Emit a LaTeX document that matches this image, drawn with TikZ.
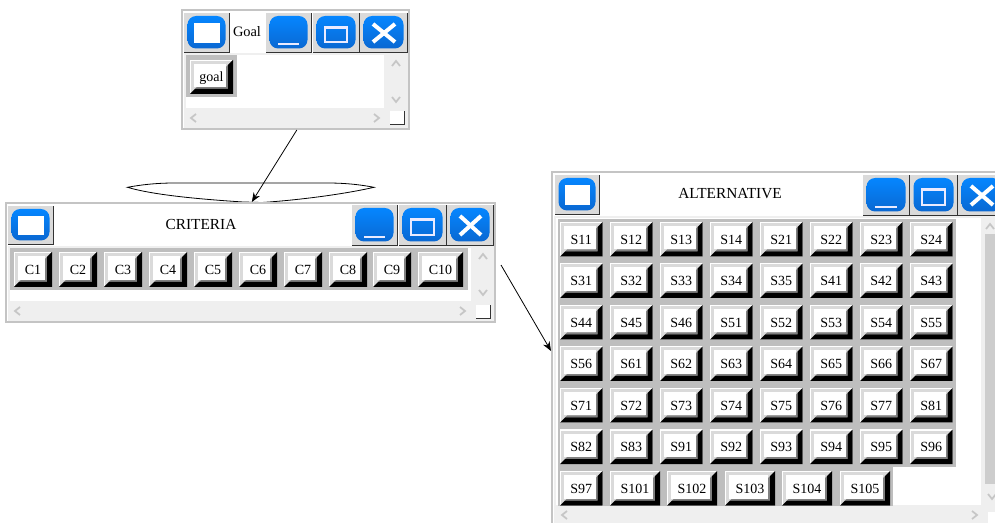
\documentclass[tikz,border=0pt]{standalone}
\usepackage{fontspec}
\setmainfont{Liberation Serif}
\usetikzlibrary{arrows.meta}
\definecolor{rimgrey}{HTML}{DADADA}
\definecolor{framegrey}{HTML}{C4C4C4}
\definecolor{panelgrey}{HTML}{BEBEBE}
\definecolor{barlight}{HTML}{EFEFEF}
\definecolor{chevgrey}{HTML}{C6C6C6}
\definecolor{thumbgrey}{HTML}{CDCDCD}
\definecolor{blueTop}{HTML}{0586FF}
\definecolor{blueBot}{HTML}{0A68D2}
\tikzset{
  windowframe/.style={draw=framegrey,line width=1.5pt,fill=white,inner sep=0pt,minimum width=#1},
  labeltext/.style={inner sep=0pt,font=\fontsize{10.5}{12}\selectfont,text height=6.8pt,text depth=0.2pt,text=black},
  titletext/.style={inner sep=0pt,font=\fontsize{11.5}{13}\selectfont,text=black},
  goaltext/.style={inner sep=0pt,font=\fontsize{10.8}{13}\selectfont,text=black},
  chevron/.style={draw=chevgrey,line width=1.3pt},
  linkarrow/.style={draw=black,line width=0.6pt,-{Stealth[length=7pt,width=5.5pt]}},
  blueface/.style={rounded corners=6.5pt,top color=blueTop,bottom color=blueBot,draw=none},
  iconline/.style={draw=white!92!blue,line width=1.5pt}
}
% raised bevelled button: name, x, y, w, h, text
\newcommand{\bevelbtn}[6]{%
  \fill[white] (#2,#3) rectangle ++(#4,#5);
  \fill[rimgrey] (#2+1,#3+1) rectangle ++(#4-2,#5-2);
  \fill[gray] (#2+#4-7,#3+7) -- (#2+#4-5,#3+5) -- (#2+#4-5,#3+#5-5) -- (#2+5,#3+#5-5) -- (#2+7,#3+#5-7) -- (#2+#4-7,#3+#5-7) -- cycle;
  \fill[black] (#2+#4,#3) -- (#2+#4,#3+#5) -- (#2,#3+#5) -- (#2+5,#3+#5-5) -- (#2+#4-5,#3+#5-5) -- (#2+#4-5,#3+5) -- cycle;
  \fill[white] (#2+4,#3+4) rectangle (#2+#4-7,#3+#5-7);
  \node[labeltext] (#1) at (#2+#4/2,#3+#5/2+0.5) {#6};
}
% window bar button background: x1,y1,x2,y2
\newcommand{\barbtn}[4]{%
  \fill[rimgrey] (#1,#2) rectangle (#3,#4);
  \draw[black!80,line width=0.7pt] (#1,#4) -- (#3,#4) -- (#3,#2);
  \shade[blueface] (#1+3.5,#2+3) rectangle (#3-3.5,#4-3.5);
}
\newcommand{\menubtn}[4]{%
  \barbtn{#1}{#2}{#3}{#4}
  \fill[white] (#1+9.5,#2+10) rectangle (#3-9.5,#4-9);
}
\newcommand{\minbtn}[4]{%
  \barbtn{#1}{#2}{#3}{#4}
  \draw[iconline] (#1+12,#4-8) -- (#3-12,#4-8);
}
\newcommand{\maxbtn}[4]{%
  \barbtn{#1}{#2}{#3}{#4}
  \draw[iconline] (#1+12,#2+14) rectangle (#3-12,#4-10);
  \draw[iconline] (#1+12,#2+15) -- (#3-12,#2+15);
}
\newcommand{\closebtn}[4]{%
  \barbtn{#1}{#2}{#3}{#4}
  \draw[draw=white,line width=3pt] (#1+13,#2+11) -- (#3-12,#4-10);
  \draw[draw=white,line width=3pt] (#3-12,#2+11) -- (#1+13,#4-10);
}
\newcommand{\upchev}[2]{\draw[chevron] (#1-4,#2+3) -- (#1,#2-2) -- (#1+4,#2+3);}
\newcommand{\downchev}[2]{\draw[chevron] (#1-4,#2-3) -- (#1,#2+2) -- (#1+4,#2-3);}
\newcommand{\leftchev}[2]{\draw[chevron] (#1+3,#2-4) -- (#1-2,#2) -- (#1+3,#2+4);}
\newcommand{\rightchev}[2]{\draw[chevron] (#1-3,#2-4) -- (#1+2,#2) -- (#1-3,#2+4);}
\newcommand{\gripbox}[2]{%
  \fill[white] (#1,#2) rectangle ++(14,13);
  \draw[black!80,line width=0.7pt] (#1,#2+13) -- (#1+14,#2+13) -- (#1+14,#2);
}
\begin{document}
\begin{tikzpicture}[x=0.75pt,y=-0.75pt]
\clip (0,0) rectangle (995,523);
\fill[white] (0,0) rectangle (995,523);

% ---------- flattened ellipse behind the criteria window
\draw[black,line width=0.6pt,fill=white] (127.5,187.3) .. controls (140,185) and (155,183) .. (175,183)
  -- (327,183) .. controls (347,183) and (362,185) .. (374,187.3)
  .. controls (345,194) and (300,200) .. (262,202.5) -- (243,202)
  .. controls (205,199.5) and (155,195.5) .. (127.5,187.3) -- cycle;

% ---------- Goal window
\node[windowframe=170.25pt,minimum height=89.25pt] (goalwin) at (295.5,69.5) {};
\fill[barlight] (184,53) rectangle (408,128);
\fill[white] (186,55) rectangle (384,108);
\fill[panelgrey] (186,55) rectangle (237,97);
\bevelbtn{goal}{190}{60}{43}{34}{goal}
\menubtn{184}{13}{229}{52}
\node[goaltext] (goaltitle) at (247,32) {Goal};
\minbtn{266}{13}{311}{52}
\maxbtn{313}{13}{359}{52}
\closebtn{360}{13}{407}{52}
\upchev{396}{63}
\downchev{396}{100}
\leftchev{193}{118}
\rightchev{377}{118}
\gripbox{390}{111}

% ---------- Criteria window
\node[windowframe=366.75pt,minimum height=89.25pt] (critwin) at (250.5,262.5) {};
\fill[barlight] (8,246) rectangle (494,321);
\fill[white] (10,248) rectangle (471,301);
\fill[panelgrey] (10,248) rectangle (468,290);
\foreach \lab/\px/\pw in {C1/14/38,C2/59/38,C3/104/38,C4/149/38,C5/194/38,C6/239/38,C7/284/38,C8/329/38,C9/373/38,C10/418/45}{
  \bevelbtn{\lab}{\px}{252}{\pw}{35}{\lab}
}
\menubtn{8}{206}{53}{244}
\node[titletext] (crittitle) at (201,225) {CRITERIA};
\minbtn{352}{205}{397}{245}
\maxbtn{399}{205}{446}{245}
\closebtn{447}{205}{493}{245}
\upchev{483}{256}
\downchev{483}{293}
\leftchev{17}{311}
\rightchev{463}{311}
\gripbox{476}{305}

% ---------- Alternative window
\node[windowframe=336pt,minimum height=268.5pt] (altwin) at (776,351) {};
\fill[barlight] (554,216) rectangle (1000,530);
\fill[white] (556,218) rectangle (981,505);
\fill[thumbgrey] (985,234) rectangle (1000,484);
\fill[panelgrey] (558,219) rectangle (956,467);
\fill[panelgrey] (558,467) rectangle (893,506);
\foreach \lab [count=\n from 0] in {S11,S12,S13,S14,S21,S22,S23,S24,
   S31,S32,S33,S34,S35,S41,S42,S43,
   S44,S45,S46,S51,S52,S53,S54,S55,
   S56,S61,S62,S63,S64,S65,S66,S67,
   S71,S72,S73,S74,S75,S76,S77,S81,
   S82,S83,S91,S92,S93,S94,S95,S96}{
  \pgfmathtruncatemacro{\cc}{mod(\n,8)}
  \pgfmathtruncatemacro{\rr}{\n/8}
  \pgfmathsetmacro{\px}{560+50*\cc}
  \pgfmathsetmacro{\py}{222+41.5*\rr}
  \bevelbtn{\lab}{\px}{\py}{42.5}{34.5}{\lab}
}
\bevelbtn{S97}{560}{471}{42.5}{34.5}{S97}
\foreach \lab/\px in {S101/610,S102/667,S103/725,S104/782,S105/840}{
  \bevelbtn{\lab}{\px}{471}{50}{34.5}{\lab}
}
\fill[barlight] (554,506) rectangle (1000,530);
\menubtn{555}{175}{599}{214}
\node[titletext] (alttitle) at (730,194) {ALTERNATIVE};
\minbtn{863}{175}{909}{215}
\maxbtn{910}{175}{957}{215}
\closebtn{958}{175}{1005}{215}
\upchev{990}{226}
\downchev{992}{497}
\leftchev{564}{515}
\rightchev{975}{515}
\gripbox{988}{512}

% ---------- connectors
\coordinate (critexit) at (501,265);
\draw[linkarrow] ([xshift=1pt]goalwin.south) -- ([xshift=1pt]critwin.north);
\draw[linkarrow] (critexit) -- (altwin.west);
\end{tikzpicture}
\end{document}
